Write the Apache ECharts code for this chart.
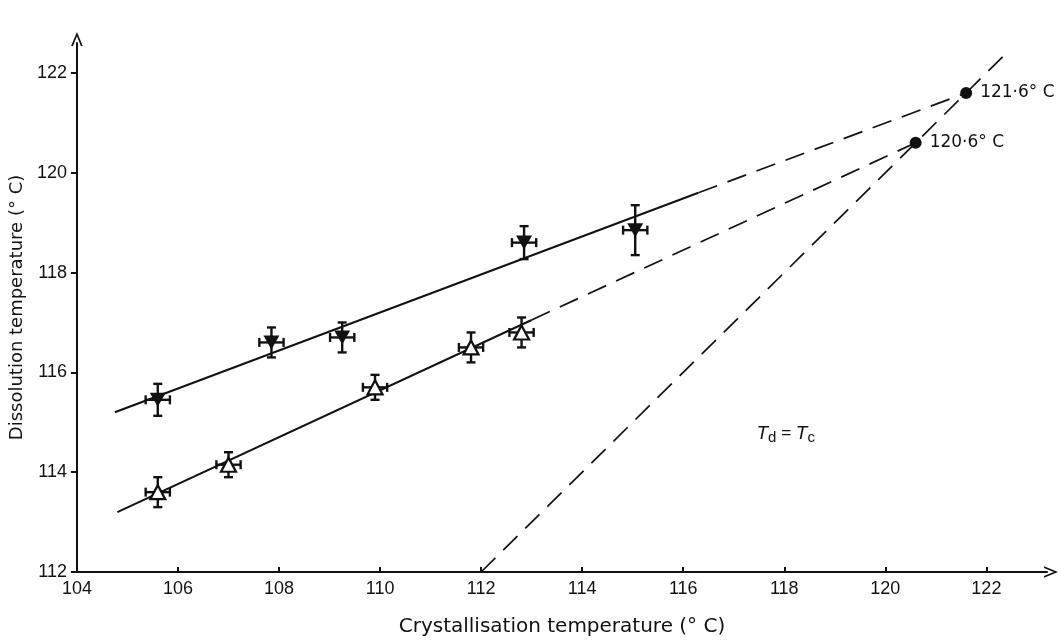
<!DOCTYPE html>
<html>
<head>
<meta charset="utf-8">
<script src="https://cdn.jsdelivr.net/npm/echarts@6/dist/echarts.min.js"></script>
<style>
  html, body { margin: 0; padding: 0; background: #fff; }
  #chart { width: 1061px; height: 642px; }
</style>
</head>
<body>
<div id="chart"></div>
<script>
// Tick labels
const xTicks = [104, 106, 108, 110, 112, 114, 116, 118, 120, 122];
const yTicks = [112, 114, 116, 118, 120, 122];

// Filled (▼) series: crystallisation T, dissolution T, error half-widths
const filledX = [105.6, 107.85, 109.25, 112.85, 115.05];
const filledY = [115.45, 116.6, 116.7, 118.6, 118.85];
const filledErrX = [0.24, 0.24, 0.24, 0.24, 0.24];
const filledErrY = [0.32, 0.3, 0.3, 0.33, 0.5];

// Open (△) series
const openX = [105.6, 107.0, 109.9, 111.8, 112.8];
const openY = [113.6, 114.15, 115.7, 116.5, 116.8];
const openErrX = [0.24, 0.24, 0.24, 0.24, 0.24];
const openErrY = [0.3, 0.25, 0.25, 0.3, 0.3];

// Fitted lines: solid part and dashed extrapolation
const filledFitSolid = [[104.75, 115.2], [116.3, 119.6]];
const filledFitDashed = [[116.3, 119.6], [121.6, 121.6]];
const openFitSolid = [[104.8, 113.2], [113.0, 117.05]];
const openFitDashed = [[113.0, 117.05], [120.6, 120.6]];
const equalityLine = [[112.0, 112.0], [122.4, 122.4]];

// Extrapolated equilibrium temperatures
const meltX = [121.6, 120.6];
const meltY = [121.6, 120.6];
const meltLabels = ['121·6° C', '120·6° C'];

const font = 'Liberation Sans, Arial, sans-serif';
const wideFont = 'DejaVu Sans, Verdana, sans-serif';
const ink = '#111';
const chevron = 'path://M5,0 L10,12 L8.4,12 L5,3.6 L1.6,12 L0,12 Z';

function zip(xs, ys) { return xs.map((x, i) => [x, ys[i]]); }

function errorBars(params, api) {
  const x = api.value(0), y = api.value(1), ex = api.value(2), ey = api.value(3);
  const top = api.coord([x, y + ey]);
  const bot = api.coord([x, y - ey]);
  const lft = api.coord([x - ex, y]);
  const rgt = api.coord([x + ex, y]);
  const cap = 4.5;
  const st = { stroke: ink, lineWidth: 2.4 };
  const line = (x1, y1, x2, y2) => ({ type: 'line', shape: { x1, y1, x2, y2 }, style: st });
  return {
    type: 'group',
    children: [
      line(top[0], top[1], bot[0], bot[1]),
      line(top[0] - cap, top[1], top[0] + cap, top[1]),
      line(bot[0] - cap, bot[1], bot[0] + cap, bot[1]),
      line(lft[0], lft[1], rgt[0], rgt[1]),
      line(lft[0], lft[1] - cap, lft[0], lft[1] + cap),
      line(rgt[0], rgt[1] - cap, rgt[0], rgt[1] + cap)
    ]
  };
}

function lineSeries(data, dashed) {
  return {
    type: 'line', data, symbol: 'none', silent: true, z: 2,
    lineStyle: { color: ink, width: dashed ? 1.7 : 2, type: dashed ? [20, 11] : 'solid' }
  };
}

const chart = echarts.init(document.getElementById('chart'));
chart.setOption({
  animation: false,
  backgroundColor: '#fff',
  grid: { left: 76, right: 14, top: 43, bottom: 64 },
  xAxis: {
    type: 'value', min: 104, max: 123.2, interval: 2,
    name: 'Crystallisation temperature (° C)',
    nameLocation: 'middle', nameGap: 45,
    nameTextStyle: { fontFamily: wideFont, fontSize: 20, color: ink },
    axisLine: { lineStyle: { color: ink, width: 2 }, symbol: ['none', chevron], symbolSize: [12, 14], symbolOffset: [0, 4] },
    axisTick: { inside: true, length: 5, lineStyle: { color: ink, width: 2 }, customValues: xTicks },
    axisLabel: { fontFamily: font, fontSize: 18, color: ink, margin: 8, customValues: xTicks },
    splitLine: { show: false }
  },
  yAxis: {
    type: 'value', min: 112, max: 122.6, interval: 2,
    name: 'Dissolution temperature (° C)',
    nameLocation: 'middle', nameGap: 49,
    nameTextStyle: { fontFamily: wideFont, fontSize: 18, color: ink },
    axisLine: { lineStyle: { color: ink, width: 2 }, symbol: ['none', chevron], symbolSize: [12, 14], symbolOffset: [0, 4] },
    axisTick: { inside: false, length: 6, lineStyle: { color: ink, width: 2 }, customValues: yTicks },
    axisLabel: { fontFamily: font, fontSize: 18, color: ink, margin: 10, customValues: yTicks },
    splitLine: { show: false }
  },
  series: [
    lineSeries(filledFitSolid, false),
    lineSeries(filledFitDashed, true),
    lineSeries(openFitSolid, false),
    lineSeries(openFitDashed, true),
    lineSeries(equalityLine, true),
    {
      type: 'custom', renderItem: errorBars, z: 3,
      data: filledX.map((x, i) => [x, filledY[i], filledErrX[i], filledErrY[i]])
    },
    {
      type: 'custom', renderItem: errorBars, z: 3,
      data: openX.map((x, i) => [x, openY[i], openErrX[i], openErrY[i]])
    },
    {
      type: 'scatter', data: zip(filledX, filledY), z: 4,
      symbol: 'triangle', symbolRotate: 180, symbolSize: [16, 14],
      itemStyle: { color: ink, opacity: 1 }
    },
    {
      type: 'scatter', data: zip(openX, openY), z: 4,
      symbol: 'triangle', symbolSize: [15, 14],
      itemStyle: { color: '#fff', borderColor: ink, borderWidth: 2.2, opacity: 1 }
    },
    {
      type: 'scatter', z: 5, symbol: 'circle', symbolSize: 12,
      itemStyle: { color: ink, opacity: 1 },
      data: meltX.map((x, i) => ({ value: [x, meltY[i]], label: { formatter: meltLabels[i] } })),
      label: { show: true, position: 'right', distance: 8, fontFamily: wideFont, fontSize: 17, color: ink }
    },
    {
      type: 'scatter', z: 5, symbolSize: 0,
      itemStyle: { opacity: 1 },
      data: [[117.45, 114.78]],
      label: {
        show: true, position: [0, 0], align: 'left', verticalAlign: 'middle',
        formatter: '{i|T}{s|d}{e| = }{i|T}{s|c}',
        rich: {
          i: { fontFamily: font, fontStyle: 'italic', fontSize: 19, color: ink },
          s: { fontFamily: font, fontSize: 15, color: ink, padding: [9, 0, 0, 0] },
          e: { fontFamily: font, fontSize: 17, color: ink }
        }
      }
    }
  ]
});
</script>
</body>
</html>
